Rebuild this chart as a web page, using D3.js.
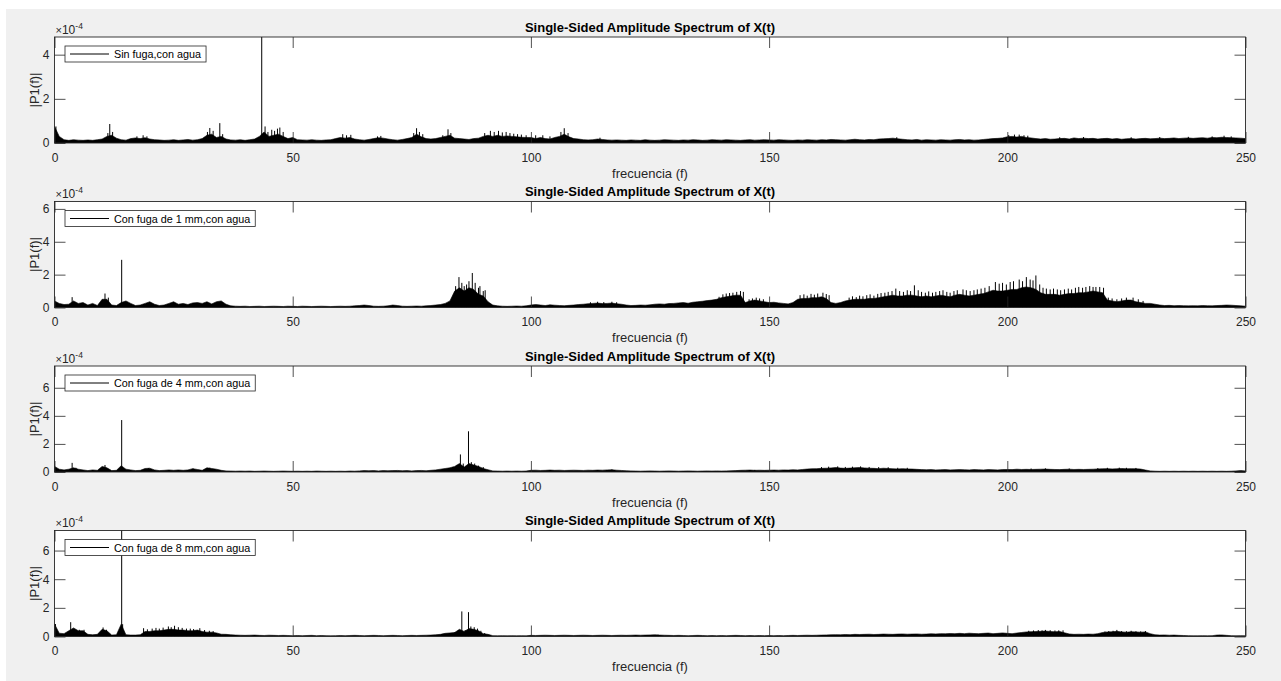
<!DOCTYPE html>
<html>
<head>
<meta charset="utf-8">
<script src="https://cdn.jsdelivr.net/npm/d3@7"></script>
<style>
  body { margin: 0; background: #fff; }
  svg { display: block; font-family: "Liberation Sans", Arial, Helvetica, sans-serif; }
</style>
</head>
<body>
<div id="chart"></div>
<script>
// |P1(f)|, one value per 1 Hz (0..250 Hz), units of 1e-5
const sinFuga = [
  7.5, 3, 1.5, 1.2, 1.5, 1.3, 1.2, 1.4, 1.2, 1.5,
  1.8, 3, 3.5, 2.2, 1.5, 1.3, 2, 2.3, 2, 2.4,
  1.8, 1.5, 1.4, 1.2, 1.3, 1.5, 1.2, 1.4, 1.6, 1.3,
  1.5, 2, 3.5, 4, 2.5, 3, 1.8, 1.4, 1.3, 1.5,
  1.2, 1.5, 1.8, 3, 5, 3, 3.5, 4, 3, 2,
  2.5, 1.5, 1.4, 1.3, 1.5, 1.3, 1.2, 1.4, 1.5, 2,
  2.5, 2.2, 2.5, 1.8, 1.5, 1.3, 1.6, 2, 2.4, 2.2,
  1.8, 1.5, 1.3, 1.6, 2, 2.5, 4, 2.8, 2, 1.8,
  2, 2.5, 3, 3.5, 2.2, 2, 1.8, 1.6, 2, 2.2,
  3, 3.5, 3, 3.5, 3, 3.2, 3, 2.8, 2.6, 2.5,
  2.5, 2, 2.5, 2, 1.8, 2.5, 3, 4, 2.8, 2,
  1.8, 1.5, 1.4, 1.5, 1.8, 1.6, 1.4, 1.3, 1.4, 1.3,
  1.2, 1.4, 1.3, 1.2, 1.5, 1.3, 1.2, 1.3, 1.5, 1.4,
  1.3, 1.2, 1.4, 1.3, 1.5, 1.4, 1.2, 1.3, 1.5, 1.4,
  1.3, 1.5, 1.4, 1.3, 1.2, 1.4, 1.5, 1.3, 1.4, 1.5,
  1.4, 1.3, 1.5, 1.4, 1.3, 1.2, 1.4, 1.3, 1.5, 1.4,
  1.3, 1.5, 1.4, 1.6, 1.5, 1.4, 1.3, 1.5, 1.7, 1.5,
  1.4, 1.6, 1.5, 1.8, 1.9, 2, 2.2, 1.9, 1.7, 1.5,
  1.4, 1.6, 1.3, 1.5, 1.4, 1.3, 1.5, 1.4, 1.3, 1.5,
  1.6, 1.4, 1.5, 1.3, 1.4, 1.6, 1.8, 2, 2.1, 2.3,
  2.8, 3, 2.7, 3, 2.5, 2.3, 2, 1.8, 2, 1.7,
  1.8, 2, 2.1, 1.8, 2.3, 2, 2.2, 2, 2.1, 1.8,
  2, 2.1, 1.8, 2, 1.7, 1.9, 2, 1.8, 2, 2.1,
  1.9, 2, 2.2, 2, 2.1, 2.3, 2, 2.2, 2.3, 2.1,
  2.3, 2.4, 2.2, 2.5, 2.4, 2.6, 2.5, 2.4, 2.3, 2.2,
  2
];
const fuga1mm = [
  4, 2.5, 1.8, 2, 4, 2.5, 3, 1.5, 2.5, 1.2,
  5, 5, 1.5, 1.2, 3, 4, 2.5, 1.2, 1.5, 2.5,
  3.5, 2, 1.2, 1.5, 2.5, 3.5, 2, 2.5, 1.8, 2.8,
  3, 2.5, 3.5, 2.2, 3.5, 4, 2, 1, 0.8, 0.7,
  0.8, 0.6, 0.7, 0.8, 0.6, 0.7, 0.8, 0.7, 0.6, 0.8,
  0.7, 0.6, 0.8, 0.7, 0.6, 0.7, 0.8, 0.7, 0.6, 0.7,
  0.8, 0.7, 0.8, 1, 1.2, 1.5, 1.2, 0.8, 0.7, 0.8,
  1, 1.5, 1.2, 0.8, 0.7, 0.8, 0.9, 0.8, 1, 1.2,
  1.5, 1.8, 2.5, 4, 10, 12, 10, 12, 11, 8,
  7, 3.5, 1.5, 1, 0.8, 0.7, 0.8, 0.9, 0.8, 1,
  1.5, 1.8, 1.5, 1.2, 1.6, 1.4, 1.2, 1.1, 1.3, 1.5,
  1.8, 2, 2.3, 2.5, 2.7, 2.4, 2.5, 2.7, 2.3, 2,
  1.5, 1.2, 1.3, 1.5, 1.4, 1.6, 2, 2.2, 2, 2.4,
  2.5, 2.8, 3, 2.6, 3.2, 3.5, 3.8, 4.2, 4.5, 5,
  6, 6.5, 7, 7.5, 7.5, 3, 4, 4.5, 4, 3.5,
  3, 3.2, 2.8, 2.5, 2.2, 3, 5, 5.5, 5.5, 6,
  6, 6.5, 5.5, 3, 2.5, 3, 4, 4.5, 5, 5,
  5, 5.5, 5.5, 6, 6.5, 7, 7.5, 7, 7, 7.5,
  7.5, 7, 6.5, 7, 6.5, 7, 7.5, 7, 6.5, 7.5,
  8, 7.5, 7, 7.5, 8, 8.5, 9.5, 10.5, 10, 10,
  10.5, 11, 11, 12, 12.5, 12, 11, 9, 8, 8,
  8, 7.5, 8, 8.5, 8.5, 9, 9, 9.5, 10, 9.5,
  9, 4.5, 4, 3.5, 4, 4.5, 4.5, 3.5, 3, 2.5,
  2.5, 2, 1.5, 1.2, 1.3, 1.1, 1.2, 1.1, 1, 1.1,
  1, 1.2, 1.1, 1, 1.2, 1.3, 1.5, 1.4, 1.2, 1,
  0.8
];
const fuga4mm = [
  4, 2, 1.5, 2, 3, 2, 1.5, 1, 1.5, 1.2,
  4, 3, 1, 1.2, 4.5, 2, 1.5, 1, 1.2, 2.5,
  2.7, 1.5, 1, 1.2, 1.5, 1.2, 1.5, 1.2, 1.5, 2.4,
  1.8, 1.2, 3, 2.5, 2, 1.2, 0.8, 0.7, 0.6, 0.7,
  0.6, 0.7, 0.5, 0.6, 0.7, 0.6, 0.5, 0.6, 0.7, 0.6,
  0.5, 0.6, 0.5, 0.6, 0.5, 0.7, 0.6, 0.5, 0.6, 0.5,
  0.6, 0.5, 0.7, 0.6, 0.8, 1, 0.9, 1, 0.8, 1,
  0.9, 1, 1.1, 0.9, 1, 0.8, 1, 1.1, 0.9, 1.2,
  1.5, 2, 2.5, 3, 4, 6, 3.5, 6, 5, 4,
  2.5, 1.6, 0.8, 0.7, 0.6, 0.7, 0.6, 0.7, 0.6, 0.7,
  1.2, 1.3, 1.1, 1.2, 1.4, 1.2, 1.3, 1.1, 1.2, 1.3,
  1.2, 1.1, 1.3, 1.2, 1.4, 1.3, 1.5, 1.6, 1.3, 1.1,
  0.9, 0.8, 0.7, 0.6, 0.7, 0.8, 0.7, 0.6, 0.7, 0.8,
  0.7, 0.6, 0.7, 0.8, 0.7, 0.6, 0.7, 0.8, 0.7, 0.8,
  0.7, 0.8, 0.9, 1, 1.2, 1.3, 1.4, 1.2, 1.3, 1.2,
  1.3, 1.4, 1.3, 1.5, 1.4, 1.6, 1.5, 1.8, 2.1, 2.3,
  2.4, 2.6, 2.7, 2.9, 3.2, 2.8, 2.6, 2.8, 3, 3.2,
  2.9, 2.7, 2.6, 2.4, 2.7, 2.5, 2.3, 2.2, 2.4, 2.2,
  2.1, 1.9, 1.7, 1.6, 1.7, 1.5, 1.6, 1.7, 1.5, 1.6,
  1.7, 1.6, 1.5, 1.7, 1.6, 1.5, 1.7, 1.6, 1.5, 1.7,
  1.8, 1.7, 2, 1.8, 1.9, 1.8, 1.9, 2, 2.1, 1.9,
  1.8, 1.7, 1.9, 2, 1.8, 1.9, 1.8, 1.9, 2, 2.2,
  2.3, 2.4, 2.2, 2.3, 2.5, 2.3, 2.4, 2.3, 2.1, 1.4,
  0.8, 0.6, 0.5, 0.6, 0.5, 0.6, 0.5, 0.6, 0.5, 0.6,
  0.5, 0.6, 0.5, 0.6, 0.5, 0.6, 0.5, 0.6, 0.8, 1,
  0.8
];
const fuga8mm = [
  8.7, 2.3, 2, 4, 6, 4, 4, 1.5, 1.2, 1.5,
  5, 4, 1, 1.2, 8.6, 1.2, 1, 1, 1.2, 3.5,
  3.5, 4, 4, 4.5, 5, 5, 4.5, 4.5, 4, 4,
  4.5, 3.5, 3, 3, 2.5, 1.6, 1.5, 1.2, 1, 0.9,
  0.8, 0.9, 1, 0.8, 0.7, 0.9, 0.8, 0.7, 0.8, 0.7,
  0.6, 0.7, 0.6, 0.7, 0.8, 0.6, 0.7, 0.6, 0.5, 0.6,
  0.7, 0.6, 0.7, 0.8, 0.7, 0.6, 0.7, 0.8, 0.7, 0.6,
  0.7, 0.8, 0.7, 0.6, 0.7, 0.8, 0.7, 0.8, 0.9, 1,
  1.2, 1.5, 2.2, 2.5, 2.8, 5, 3.5, 5.5, 5, 4,
  2, 1.5, 0.6, 0.5, 0.6, 0.5, 0.6, 0.5, 0.6, 0.5,
  0.8, 0.7, 0.8, 0.9, 0.8, 0.7, 0.8, 0.9, 0.8, 0.7,
  0.8, 0.9, 0.8, 0.7, 0.8, 0.9, 0.8, 0.7, 0.8, 0.9,
  0.8, 0.9, 1, 0.9, 1, 1.1, 1.2, 1, 0.9, 0.8,
  0.7, 0.8, 0.7, 0.6, 0.7, 0.8, 0.7, 0.6, 0.7, 0.6,
  0.7, 0.6, 0.7, 0.8, 0.7, 0.6, 0.7, 0.6, 0.7, 0.6,
  0.7, 0.6, 0.7, 0.6, 0.7, 0.8, 0.7, 0.8, 0.9, 0.8,
  0.9, 1, 1.1, 1.2, 1.3, 1.2, 1.4, 1.3, 1.5, 1.4,
  1.5, 1.6, 1.4, 1.5, 1.7, 1.6, 1.5, 1.7, 1.8, 1.6,
  1.7, 1.8, 1.6, 1.7, 1.9, 1.8, 2, 1.9, 2.1, 2,
  2.2, 2, 2.3, 2.1, 2, 2.2, 2.4, 2, 2.2, 2.5,
  2.2, 2, 2.4, 2.8, 3.2, 3.4, 3.5, 3.6, 3.8, 3.5,
  3.3, 3.5, 2.6, 1.8, 1.5, 1.6, 1.5, 1.7, 1.6, 2,
  2.8, 3.2, 3.3, 3.6, 3.2, 3, 3.3, 3.2, 3, 3.2,
  2, 1.2, 1, 1.1, 0.9, 1, 0.8, 0.7, 0.6, 0.5,
  0.5, 0.6, 0.5, 0.6, 1, 1.1, 0.8, 0.6, 0.5, 0.6,
  0.5
];

// narrow spectral lines: [frequency Hz, amplitude in 1e-5]
const sinFugaPeaks = [
  [0.3, 7.5], [11.2, 4.5], [11.6, 8.6], [12.2, 5], [17.3, 3], [18.6, 3.5], [19.4, 3],
  [32.1, 5], [32.6, 6.8], [33.3, 5.5], [34.7, 9], [35.3, 4], [43.5, 48], [44.2, 7.5],
  [44.8, 5], [45.6, 6], [46.2, 5.5], [46.8, 6.5], [47.3, 7], [48, 5], [60.5, 4], [61.3, 3.5],
  [62.2, 3.7], [67.8, 3], [68.5, 3.2], [75.4, 4.5], [76, 6.7], [76.6, 5], [77.3, 4],
  [81.5, 3.5], [82.6, 6.2], [83.2, 4.5], [90.3, 4.5], [91.5, 5.5], [92.3, 5], [93.2, 5.5],
  [94, 4.8], [94.8, 5], [95.6, 4.5], [96.4, 4.2], [97.2, 4], [98, 3.8], [99, 3.5],
  [101, 3.5], [102.5, 3.5], [104, 3], [106.3, 5], [107, 6.7], [107.8, 4.5], [114.5, 2.4],
  [176.8, 2.6], [200.3, 3.6], [201.5, 3.8], [202.5, 3.8], [203.5, 3.5], [204.3, 3.3],
  [211, 2.6], [216, 2.7], [226, 2.6], [232, 2.7], [238, 2.8], [243, 3], [245.5, 3.3], [247, 3]
];
const fuga1mmPeaks = [
  [3.7, 6.3], [10.6, 8.5], [11.3, 6], [14.1, 29], [84.2, 13], [84.9, 18.5], [85.5, 15],
  [86, 13], [86.5, 14], [87, 16], [87.7, 21], [88.3, 15], [89, 12], [89.3, 13], [90, 10],
  [90.4, 10.5], [112.5, 3.2], [114, 3.5], [115.3, 3.3], [117, 3.5], [118, 3.2],
  [139.5, 6.5], [140.3, 8], [141, 8.5], [141.7, 8.8], [142.4, 9], [143.2, 9.5], [144, 10],
  [144.6, 9.5], [145.8, 5], [146.5, 5.5], [147.3, 6], [148, 5.5], [148.8, 5],
  [156.5, 7.5], [157.3, 8], [158, 7.2], [158.8, 8.3], [159.5, 7.8], [160.2, 8.5], [161.3, 9],
  [162, 8.2], [162.6, 7.5], [166.8, 6], [167.5, 6.8], [168.3, 6.3], [169, 7.2], [169.7, 6.8],
  [170.5, 7.5], [171.2, 8], [172, 7.2], [172.8, 8.3], [173.5, 8.8], [174.3, 9], [175, 9.5],
  [175.8, 10], [176.6, 11.5], [177.4, 10], [178.2, 9.5], [179, 10.5], [179.7, 10],
  [180.5, 13.5], [181.3, 10.5], [182, 9.5], [182.8, 9], [183.5, 9.8], [184.3, 9], [185, 9.5],
  [185.8, 10], [186.5, 10.5], [187.3, 9.5], [188, 9], [188.8, 10], [189.5, 10.5], [190.7, 11],
  [191.4, 10.5], [192.2, 10], [193, 10.5], [193.7, 11], [194.5, 11.5], [195.3, 12], [196.2, 13],
  [197.5, 15.5], [198.3, 14.5], [199, 15], [199.8, 14], [200.6, 15.5], [201.3, 16], [202.5, 17],
  [203.2, 16], [204, 18.5], [204.8, 17], [205.4, 16.5], [206, 19.5], [206.8, 14], [207.5, 12],
  [208.2, 11.5], [209, 11], [209.7, 11.5], [210.5, 11], [211.2, 10.5], [212, 11], [212.8, 11.5],
  [213.5, 11], [214.3, 12], [215, 12.5], [215.8, 12], [216.5, 12.5], [217.3, 13], [218, 12.5],
  [218.6, 12.5], [219.4, 12.5], [220.2, 12], [221.2, 6], [222, 5.5], [223, 5], [224, 5.5],
  [225, 6], [226.4, 6], [227.5, 5], [228.5, 4]
];
const fuga4mmPeaks = [
  [3.7, 6.5], [4.5, 3], [10.6, 5], [14.1, 37], [19.7, 2.7], [29.1, 2.4], [32.6, 3],
  [83.6, 3.6], [84.5, 5], [85.2, 12.5], [85.8, 6], [86.9, 29], [87.5, 7], [88.2, 6],
  [89, 4.5], [90, 3.5], [117, 1.8], [147, 1.5], [161, 3.5], [162.5, 3.8], [164.4, 4],
  [166, 3.6], [167.5, 3.8], [169.2, 4], [171, 3.6], [173, 3.5], [175, 3.4], [177, 3],
  [179, 3], [205, 2.5], [208, 2.6], [213, 2.5], [219, 2.8], [221, 3], [223.5, 3.1],
  [225, 3], [227, 2.9]
];
const fuga8mmPeaks = [
  [0.2, 8.7], [3.4, 10], [5.2, 4.7], [6.2, 4.7], [10.2, 6.3], [10.9, 4.7], [14.1, 74],
  [14.3, 8.6], [18.7, 5.8], [19.5, 5], [20.5, 5.5], [21.3, 6], [22, 5.5], [22.8, 6.2],
  [23.9, 7], [24.5, 6.5], [25.2, 7.5], [26, 6.5], [26.8, 6], [27.7, 5.5], [28.5, 5.5],
  [29.2, 5.2], [30.5, 5.8], [31.5, 4.5], [32.5, 4], [33.3, 3.8], [84, 3], [85.5, 17.5],
  [86.2, 4.5], [86.9, 17], [87.4, 7], [88.1, 6.5], [88.8, 5.5], [89.5, 4], [90.3, 2.4],
  [126.7, 1.2], [204.5, 4], [205.5, 4.2], [206.5, 4.5], [207.3, 4.3], [208, 4.6], [209, 4.4],
  [210, 4.2], [210.8, 4.3], [211.7, 4.3], [220.5, 3.5], [221.3, 3.8], [222.2, 4], [223, 4.6],
  [224, 3.8], [225, 3.7], [226, 4], [227, 3.7], [228, 3.6], [229, 3.8], [244.5, 1.1]
];

const legendNames = ["Sin fuga,con agua", "Con fuga de 1 mm,con agua",
  "Con fuga de 4 mm,con agua", "Con fuga de 8 mm,con agua"];
const yMaxes = [4.8e-4, 6.45e-4, 7.55e-4, 7.4e-4];
const yTickSets = [[0, 2, 4], [0, 2, 4, 6], [0, 2, 4, 6], [0, 2, 4, 6]];
const xTicks = [0, 50, 100, 150, 200, 250];
const titleText = "Single-Sided Amplitude Spectrum of X(t)";
const xLabel = "frecuencia (f)";
const yLabel = "|P1(f)|";

const series = [sinFuga, fuga1mm, fuga4mm, fuga8mm];
const peaks = [sinFugaPeaks, fuga1mmPeaks, fuga4mmPeaks, fuga8mmPeaks];
const freqStep = 1;
const unit = 1e-5;

const width = 1281, height = 681;
const left = 54.5, right = 1245.5;
const firstTop = 37, panelGap = 164.5, panelH = 106;
const axisColor = "#262626";

const svg = d3.select("#chart")
  .append("svg")
  .attr("width", width)
  .attr("height", height);

svg.append("rect")
  .attr("x", 6).attr("y", 9)
  .attr("width", width - 6).attr("height", height - 9)
  .attr("fill", "#f0f0f0");

const x = d3.scaleLinear().domain([0, 250]).range([left, right]);

series.forEach(function (values, i) {
  const top = firstTop + i * panelGap;
  const bottom = top + panelH;
  const y = d3.scaleLinear().domain([0, yMaxes[i]]).range([bottom, top]);
  const g = svg.append("g");

  g.append("rect")
    .attr("x", left).attr("y", top)
    .attr("width", right - left).attr("height", panelH)
    .attr("fill", "#fff");

  const clipId = "clip" + i;
  g.append("clipPath").attr("id", clipId)
    .append("rect")
    .attr("x", left).attr("y", top - 1)
    .attr("width", right - left).attr("height", panelH + 1);

  const plot = g.append("g").attr("clip-path", "url(#" + clipId + ")");

  const area = d3.area()
    .x(function (d, k) { return x(k * freqStep); })
    .y0(y(0))
    .y1(function (d) { return y(d * unit); });

  plot.append("path")
    .datum(values)
    .attr("d", area)
    .attr("fill", "#000")
    .attr("stroke", "#000")
    .attr("stroke-width", 0.6);

  plot.selectAll(".peak")
    .data(peaks[i])
    .enter()
    .append("line")
    .attr("class", "peak")
    .attr("x1", function (d) { return x(d[0]); })
    .attr("x2", function (d) { return x(d[0]); })
    .attr("y1", y(0))
    .attr("y2", function (d) { return y(d[1] * unit); })
    .attr("stroke", "#000")
    .attr("stroke-width", 1);

  // axes, ticks inward like MATLAB
  const yTicks = yTickSets[i].map(function (t) { return t * 1e-4; });
  const fmt = function (d) { return Math.round(d / 1e-4); };

  const xb = g.append("g").attr("transform", "translate(0," + bottom + ")")
    .call(d3.axisBottom(x).tickValues(xTicks).tickSize(-11).tickSizeOuter(0).tickPadding(10));
  const xt = g.append("g").attr("transform", "translate(0," + top + ")")
    .call(d3.axisTop(x).tickValues(xTicks).tickSize(-11).tickSizeOuter(0).tickFormat(""));
  const yl = g.append("g").attr("transform", "translate(" + left + ",0)")
    .call(d3.axisLeft(y).tickValues(yTicks).tickSize(-11).tickSizeOuter(0).tickPadding(5).tickFormat(fmt));
  const yr = g.append("g").attr("transform", "translate(" + right + ",0)")
    .call(d3.axisRight(y).tickValues(yTicks).tickSize(-11).tickSizeOuter(0).tickFormat(""));

  [xb, xt, yl, yr].forEach(function (a) {
    a.select(".domain").remove();
    a.selectAll("line").attr("stroke", axisColor).attr("stroke-width", 0.8);
    a.selectAll("text")
      .attr("fill", axisColor)
      .style("font-size", "12px")
      .style("font-family", "'Liberation Sans', Arial, sans-serif");
  });

  g.append("rect")
    .attr("x", left).attr("y", top)
    .attr("width", right - left).attr("height", panelH)
    .attr("fill", "none")
    .attr("stroke", axisColor)
    .attr("stroke-width", 0.9);

  // exponent label
  const ex = g.append("text")
    .attr("x", left + 1)
    .attr("y", top - 3.5)
    .attr("fill", axisColor)
    .style("font-size", "12px");
  ex.append("tspan").text("\u00d7").style("font-size", "11px");
  ex.append("tspan").text("10");
  ex.append("tspan").text("-4").attr("dy", -5).style("font-size", "8.5px");

  g.append("text")
    .attr("x", (left + right) / 2)
    .attr("y", top - 5.5)
    .attr("text-anchor", "middle")
    .attr("fill", "#000")
    .style("font-size", "13px")
    .style("font-weight", "bold")
    .text(titleText);

  g.append("text")
    .attr("x", (left + right) / 2)
    .attr("y", bottom + 34.5)
    .attr("text-anchor", "middle")
    .attr("fill", axisColor)
    .style("font-size", "13px")
    .text(xLabel);

  g.append("text")
    .attr("transform", "translate(39," + (top + panelH / 2) + ") rotate(-90)")
    .attr("text-anchor", "middle")
    .attr("fill", axisColor)
    .style("font-size", "13px")
    .text(yLabel);

  // legend
  const lg = g.append("g").attr("transform", "translate(" + (left + 10.5) + "," + (top + 9) + ")");
  const box = lg.append("rect")
    .attr("x", 0).attr("y", 0)
    .attr("height", 16)
    .attr("fill", "#fff")
    .attr("stroke", axisColor)
    .attr("stroke-width", 0.8);
  lg.append("line")
    .attr("x1", 5).attr("x2", 44)
    .attr("y1", 8).attr("y2", 8)
    .attr("stroke", "#000")
    .attr("stroke-width", 1);
  const lt = lg.append("text")
    .attr("x", 49)
    .attr("y", 12)
    .attr("fill", "#000")
    .style("font-size", "10.8px")
    .text(legendNames[i]);
  box.attr("width", 49 + lt.node().getComputedTextLength() + 5);
});
</script>
</body>
</html>
